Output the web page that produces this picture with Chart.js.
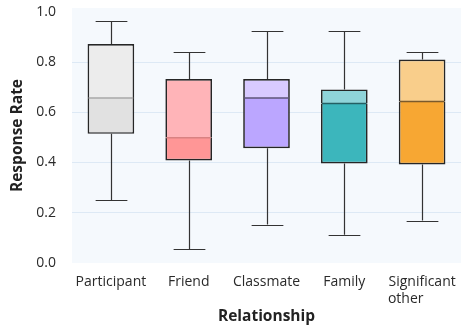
<!DOCTYPE html>
<html>
<head>
<meta charset="utf-8">
<script src="https://cdn.jsdelivr.net/npm/chart.js@4.4.1/dist/chart.umd.min.js"></script>
<style>
  html, body { margin: 0; padding: 0; background: #fff; }
  #wrap { width: 461px; height: 326px; }
</style>
</head>
<body>
<div id="wrap"><canvas id="myChart" width="461" height="326"></canvas></div>
<script>
const labels = ['Participant', 'Friend', 'Classmate', 'Family', ['Significant', 'other         ']]
const mins = [0.249, 0.056, 0.153, 0.112, 0.169]
const q1s = [0.514, 0.408, 0.457, 0.396, 0.392]
const medians = [0.657, 0.499, 0.657, 0.635, 0.643]
const q3s = [0.872, 0.732, 0.732, 0.691, 0.810]
const maxs = [0.963, 0.838, 0.923, 0.923, 0.838]

const lowColors = ['#e1e1e1', '#ff9696', '#bba6ff', '#3cb6bc', '#f7a733']
const highColors = ['#ececec', '#ffb4b8', '#d8caff', '#8fd4d9', '#f9ce8b']
const medianColors = ['#a8a8a8', '#d98282', '#5e5478', '#245f63', '#7a5a2c']

const ctx = document.getElementById('myChart')

const boxPlugin = {
  id: 'boxParts',
  beforeDraw(chart) {
    const a = chart.chartArea
    const c = chart.ctx
    c.save()
    c.fillStyle = '#f5f9fd'
    c.fillRect(a.left, a.top, a.right - a.left, a.bottom - a.top)
    c.restore()
  },
  beforeDatasetsDraw(chart) {
    const y = chart.scales.y
    const meta = chart.getDatasetMeta(0)
    const c = chart.ctx
    c.save()
    c.strokeStyle = '#333'
    c.lineWidth = 1.2
    meta.data.forEach((bar, i) => {
      const x = Math.round(bar.x) + 0.5
      const cap = bar.width * 0.34
      const yMin = y.getPixelForValue(mins[i])
      const yMax = y.getPixelForValue(maxs[i])
      c.beginPath()
      c.moveTo(x, yMin); c.lineTo(x, y.getPixelForValue(q1s[i]))
      c.moveTo(x, y.getPixelForValue(q3s[i])); c.lineTo(x, yMax)
      c.moveTo(x - cap, Math.round(yMin) + 0.5); c.lineTo(x + cap, Math.round(yMin) + 0.5)
      c.moveTo(x - cap, Math.round(yMax) + 0.5); c.lineTo(x + cap, Math.round(yMax) + 0.5)
      c.stroke()
    })
    c.restore()
  },
  afterDatasetsDraw(chart) {
    const y = chart.scales.y
    const meta = chart.getDatasetMeta(0)
    const c = chart.ctx
    c.save()
    c.lineWidth = 1.5
    meta.data.forEach((bar, i) => {
      const ym = y.getPixelForValue(medians[i])
      c.strokeStyle = medianColors[i]
      c.beginPath()
      c.moveTo(bar.x - bar.width / 2 + 1, ym)
      c.lineTo(bar.x + bar.width / 2 - 1, ym)
      c.stroke()
    })
    c.restore()
  }
}

new Chart(ctx, {
  type: 'bar',
  data: {
    labels: labels,
    datasets: [
      {
        label: 'lower',
        data: q1s.map((v, i) => [v, medians[i]]),
        backgroundColor: lowColors,
        borderColor: '#262626',
        borderWidth: { left: 1.7, right: 1.7, bottom: 1.7, top: 0 },
        borderSkipped: false,
        barPercentage: 0.6,
        categoryPercentage: 1,
        grouped: false
      },
      {
        label: 'upper',
        data: medians.map((v, i) => [v, q3s[i]]),
        backgroundColor: highColors,
        borderColor: '#262626',
        borderWidth: { left: 1.7, right: 1.7, top: 1.7, bottom: 0 },
        borderSkipped: false,
        barPercentage: 0.6,
        categoryPercentage: 1,
        grouped: false
      }
    ]
  },
  options: {
    responsive: false,
    animation: false,
    layout: { padding: { top: 8, right: 0, left: 8, bottom: 0 } },
    plugins: {
      legend: { display: false },
      tooltip: { enabled: false }
    },
    scales: {
      x: {
        grid: { display: false, drawTicks: false },
        border: { display: false },
        ticks: { color: '#2a2a2a', font: { family: 'Open Sans', size: 14 }, padding: 11, maxRotation: 0 },
        title: {
          display: true,
          text: 'Relationship',
          color: '#222',
          font: { family: 'Open Sans', size: 15.5, weight: 'bold' },
          padding: { top: 2, bottom: 0 }
        },
        afterFit: s => { s.height = 63; s.paddingLeft = 0; s.paddingRight = 0 }
      },
      y: {
        min: 0,
        max: 1.015,
        grid: {
          color: ctx2 => (ctx2.tick && (ctx2.tick.value === 0 || ctx2.tick.value >= 1)) ? 'rgba(0,0,0,0)' : '#dde9f5',
          drawTicks: false
        },
        border: { display: false },
        afterBuildTicks: s => { s.ticks = [0, 0.2, 0.4, 0.6, 0.8, 1.0].map(v => ({ value: v })) },
        ticks: {
          color: '#2a2a2a',
          font: { family: 'Open Sans', size: 14 },
          padding: 16,
          callback: v => v.toFixed(1)
        },
        title: {
          display: true,
          text: 'Response Rate',
          color: '#222',
          font: { family: 'Open Sans', size: 15.5, weight: 'bold' },
          padding: { top: 0, bottom: 0 }
        },
        afterFit: s => { s.width = 64; s.paddingTop = 0; s.paddingBottom = 0 }
      }
    }
  },
  plugins: [boxPlugin]
})
</script>
</body>
</html>
